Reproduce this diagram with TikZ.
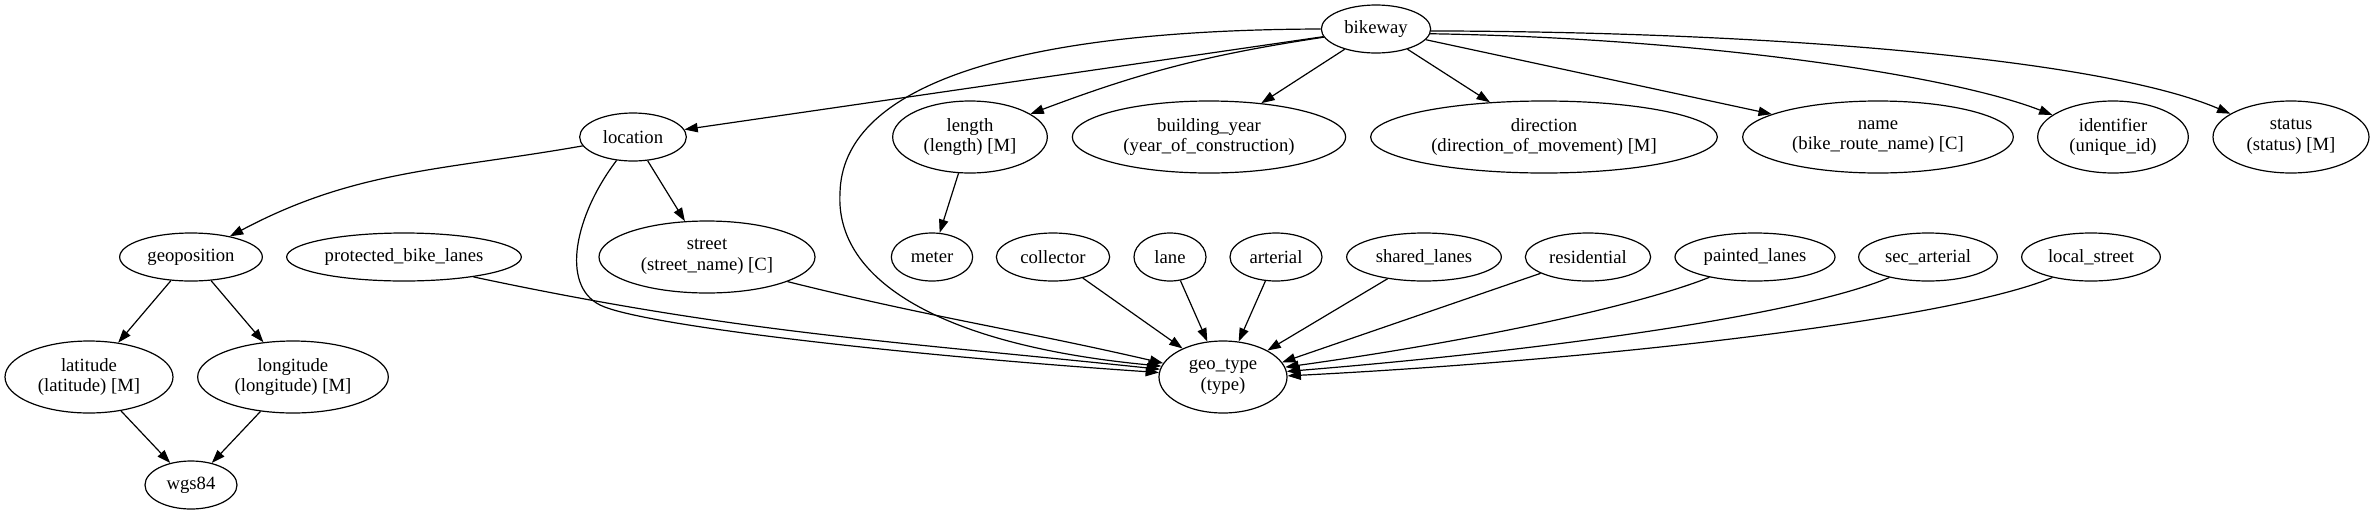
\documentclass[tikz,border=0pt]{standalone}
\usepackage{fontspec}
\setmainfont{Liberation Serif}
\usetikzlibrary{arrows.meta,shapes.geometric}

\begin{document}
\begin{tikzpicture}[x=0.75pt,y=-0.75pt,
  attr/.style={ellipse,draw,line width=0.9pt,inner sep=0pt,minimum height=36pt,
    align=center,font=\fontsize{14pt}{15.5pt}\selectfont},
  multi/.style={attr,minimum height=54pt},
  link/.style={-{Triangle[length=10pt,width=7pt]},line width=0.9pt}]
  \useasboundingbox (0,0) rectangle (2375,515);
  % rank 1
  \node[attr,minimum width=82pt] (bikeway) at (1376,29) {bikeway};
  % rank 2
  \node[attr,minimum width=80pt] (location) at (633,137) {location};
  \node[multi,minimum width=116pt] (length) at (970,137) {length\\(length) [M]};
  \node[multi,minimum width=205pt] (byear) at (1209,137) {building\_year\\(year\_of\_construction)};
  \node[multi,minimum width=260pt] (direction) at (1544,137) {direction\\(direction\_of\_movement) [M]};
  \node[multi,minimum width=203pt] (name) at (1878,137) {name\\(bike\_route\_name) [C]};
  \node[multi,minimum width=113pt] (ident) at (2113,137) {identifier\\(unique\_id)};
  \node[multi,minimum width=117pt] (status) at (2291,137) {status\\(status) [M]};
  % rank 3
  \node[attr,minimum width=107pt] (geopos) at (191,257) {geoposition};
  \node[attr,minimum width=176pt] (protlanes) at (404,257) {protected\_bike\_lanes};
  \node[multi,minimum width=162pt] (street) at (707,257) {street\\(street\_name) [C]};
  \node[attr,minimum width=61pt] (meter) at (932,257) {meter};
  \node[attr,minimum width=85pt] (collector) at (1053,257) {collector};
  \node[attr,minimum width=54pt] (lane) at (1170,257) {lane};
  \node[attr,minimum width=69pt] (arterial) at (1276,257) {arterial};
  \node[attr,minimum width=116pt] (shared) at (1424,257) {shared\_lanes};
  \node[attr,minimum width=94pt] (residential) at (1588,257) {residential};
  \node[attr,minimum width=120pt] (painted) at (1755,257) {painted\_lanes};
  \node[attr,minimum width=104pt] (secart) at (1928,257) {sec\_arterial};
  \node[attr,minimum width=104pt] (localst) at (2091,257) {local\_street};
  % rank 4
  \node[multi,minimum width=126pt] (latitude) at (89,377) {latitude\\(latitude) [M]};
  \node[multi,minimum width=143pt] (longitude) at (293,377) {longitude\\(longitude) [M]};
  \node[multi,minimum width=96pt] (geotype) at (1223,377) {geo\_type\\(type)};
  % rank 5
  \node[attr,minimum width=69pt] (wgs) at (191,485) {wgs84};
  \coordinate (bbend) at (840,193);
  \coordinate (lbend) at (600,305);
  % bikeway
  \draw[link] (bikeway) -- (location);
  \draw[link] (bikeway) to[bend right=6] (length);
  \draw[link] (bikeway) -- (byear);
  \draw[link] (bikeway) -- (direction);
  \draw[link] (bikeway) -- (name);
  \draw[link] (bikeway.-5) .. controls (1700,38) and (1950,75) .. (ident.160);
  \draw[link] (bikeway.-2) .. controls (1800,32) and (2110,62) .. (status.159);
  \draw[link] (bikeway.180) .. controls (1000,30) and (842,90) .. (bbend)
    .. controls (835,280) and (940,345) .. (geotype.170);
  % location
  \draw[link] (location) to[out=190,in=28] (geopos);
  \draw[link] (location) -- (street);
  \draw[link] (location.235) .. controls (575,215) and (560,285) .. (lbend)
    .. controls (640,325) and (900,355) .. (geotype.176);
  \draw[link] (geopos) -- (latitude);
  \draw[link] (geopos) -- (longitude);
  \draw[link] (latitude) -- (wgs);
  \draw[link] (longitude) -- (wgs);
  \draw[link] (length) -- (meter);
  % into geo_type
  \draw[link] (protlanes.-16) to[out=-12,in=174] (geotype.173);
  \draw[link] (street.-17) to[out=-14,in=167] (geotype.167);
  \draw[link] (collector) -- (geotype);
  \draw[link] (lane) -- (geotype);
  \draw[link] (arterial) -- (geotype);
  \draw[link] (shared) -- (geotype);
  \draw[link] (residential) -- (geotype.14);
  \draw[link] (painted.204) .. controls (1640,305) and (1480,340) .. (geotype.9);
  \draw[link] (secart.208) .. controls (1800,315) and (1550,350) .. (geotype.5);
  \draw[link] (localst.208) .. controls (1950,320) and (1600,360) .. (geotype.1);
\end{tikzpicture}
\end{document}
